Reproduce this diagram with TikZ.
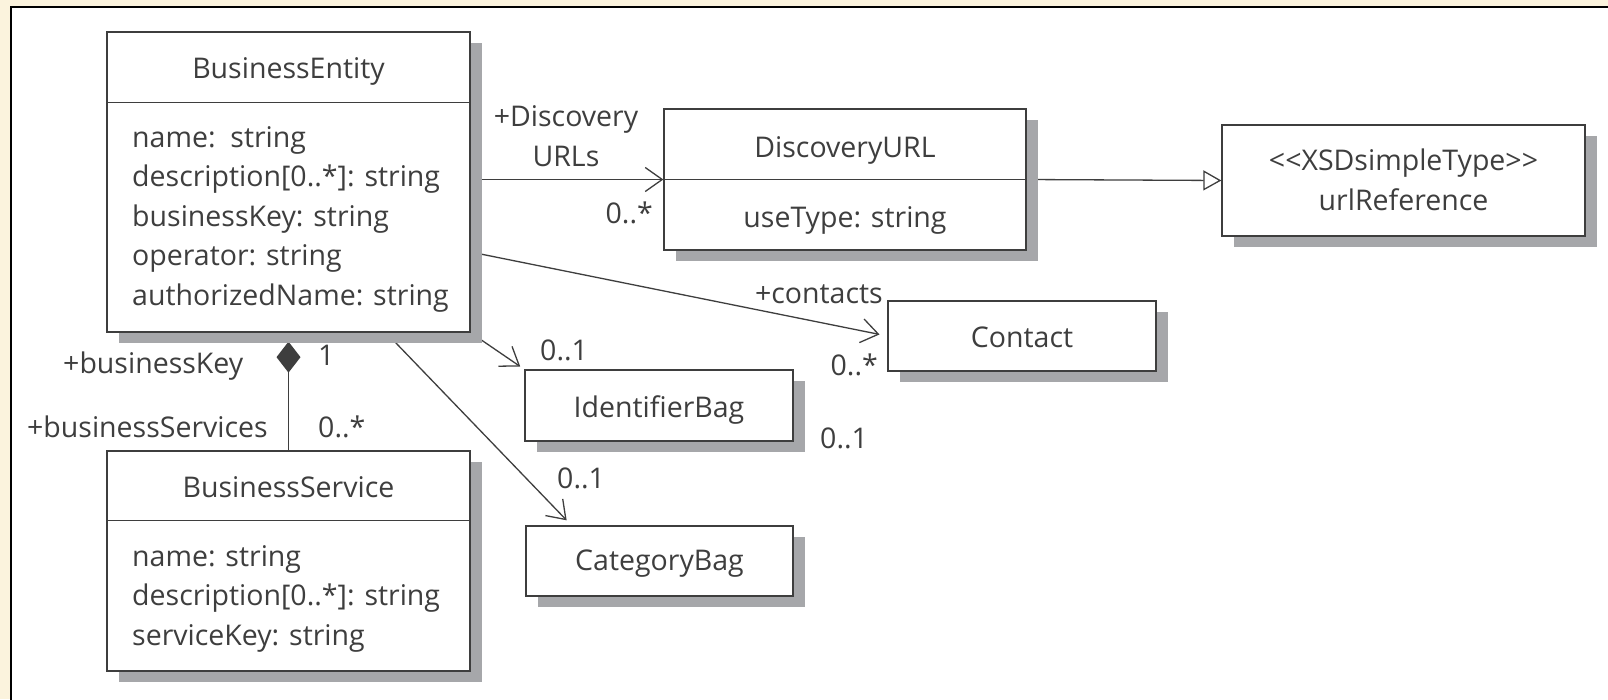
\documentclass[tikz,border=0pt]{standalone}
\usepackage{fontspec}
\setmainfont{Open Sans}
\usepackage{tikz}
\usetikzlibrary{positioning}
\usetikzlibrary{shadows, arrows.meta, backgrounds}

\definecolor{pagecream}{RGB}{251,243,221}
\definecolor{shadowgray}{RGB}{166,167,170}
\definecolor{inkgray}{RGB}{62,62,62}

\tikzset{
  classbox/.style={draw=inkgray, fill=white, line width=1.3pt, inner sep=0pt,
    drop shadow={shadow xshift=12pt, shadow yshift=-11pt, fill=shadowgray, opacity=1}},
  boxtext/.style={text=inkgray, inner sep=0pt, font=\fontsize{28.5}{39.5}\selectfont},
  sepline/.style={draw=inkgray, line width=1.3pt},
  assoc/.style={draw=inkgray, line width=1.3pt, -{Straight Barb[length=17pt, width=24pt]}},
  inherit/.style={draw=inkgray, line width=1.3pt, -{Triangle[open, length=18pt, width=20pt, fill=white]}},
  compose/.style={draw=inkgray, line width=1.3pt, -{Diamond[length=31pt, width=24pt, fill=inkgray]}}
}

\begin{document}
\begin{tikzpicture}[x=1pt, y=-1pt]
        \useasboundingbox (0,0) rectangle (1608,699);

        % Page and frame
        \begin{scope}[on background layer]
        \fill[pagecream] (0,0) rectangle (1608,699);
        \draw[black, line width=1.5pt, fill=white] (11,7) rectangle (1650,740);
        \end{scope}

        % BusinessEntity
        \node[classbox, minimum width=363pt, minimum height=300pt] (entity) at (288.5,182) {};
        \node[boxtext, anchor=base] (entity title) at (288.5,78) {BusinessEntity};
        \draw[sepline] ([yshift=-71pt]entity.north west) -- ([yshift=-71pt]entity.north east);
        \node[boxtext, anchor=base west, align=left] (entity attrs) at (132,305)
            {name:\ \ string\\description[0..*]: string\\businessKey: string\\operator: string\\authorizedName: string};

        % BusinessService
        \node[classbox, minimum width=363pt, minimum height=220pt] (service) at (288.5,561) {};
        \node[boxtext, anchor=base] (service title) at (288.5,497) {BusinessService};
        \draw[sepline] ([yshift=-70pt]service.north west) -- ([yshift=-70pt]service.north east);
        \node[boxtext, anchor=base west, align=left] (service attrs) at (132,645)
            {name: string\\description[0..*]: string\\serviceKey: string};

        % DiscoveryURL
        \node[classbox, minimum width=362pt, minimum height=141pt] (durl) at (845,179.5) {};
        \node[boxtext, anchor=base] (durl title) at (845,157) {DiscoveryURL};
        \draw[sepline] ([yshift=-71pt]durl.north west) -- ([yshift=-71pt]durl.north east);
        \node[boxtext, anchor=base] (durl attrs) at (845,227) {useType: string};

        % urlReference
        \node[classbox, minimum width=363pt, minimum height=111pt] (urlref) at (1403.5,180.5) {};
        \node[boxtext, anchor=base, align=center] (urlref text) at (1403.5,210)
            {<\kern0pt<XSDsimpleType>\kern0pt>\\urlReference};

        % Contact, IdentifierBag, CategoryBag
        \node[classbox, minimum width=268pt, minimum height=70pt] (contact) at (1022,336) {};
        \node[boxtext, anchor=base] (contact text) at (1022,347) {Contact};

        \node[classbox, minimum width=268pt, minimum height=71pt] (idbag) at (659,405.5) {};
        \node[boxtext, anchor=base] (idbag text) at (659,417) {IdentifierBag};

        \node[classbox, minimum width=267pt, minimum height=70pt] (catbag) at (659.5,561) {};
        \node[boxtext, anchor=base] (catbag text) at (659.5,570) {CategoryBag};

        % Role names and multiplicities
        \node[boxtext, anchor=base, align=center] (durl role) at (566,166) {+Discovery\\URLs};
        \node[boxtext, anchor=base east] (durl mult) at (653,223) {0..*};
        \node[boxtext, anchor=base east] (contact role) at (883,303) {+contacts};
        \node[boxtext, anchor=base east] (contact mult) at (878,375) {0..*};
        \node[boxtext, anchor=base west] (idbag mult) at (540,360) {0..1};
        \node[boxtext, anchor=base west] (idbag mult b) at (820,448) {0..1};
        \node[boxtext, anchor=base west] (catbag mult) at (557,488) {0..1};
        \node[boxtext, anchor=base west] (key role) at (63,373) {+businessKey};
        \node[boxtext, anchor=base west] (key mult) at (318,365) {1};
        \node[boxtext, anchor=base east] (service role) at (268,437) {+businessServices};
        \node[boxtext, anchor=base west] (service mult) at (318,437) {0..*};

        % Connectors
        \begin{scope}[on background layer]
        \draw[assoc] (entity.east |- durl.west) -- (durl.west);
        \draw[inherit] (durl.east) -- (urlref.west);
        \draw[assoc, shorten >=8pt] ([yshift=-70pt]entity.east) -- (contact.west);
        \draw[assoc, shorten >=5pt] (entity.south east) -- (idbag.north west);
        \draw[assoc, shorten >=7pt] ([xshift=97.5pt]entity.south) -- ([xshift=-88pt]catbag.north);
        \draw[compose, shorten >=9pt] (service.north) -- (entity.south);
        \end{scope}

\end{tikzpicture}
\end{document}
